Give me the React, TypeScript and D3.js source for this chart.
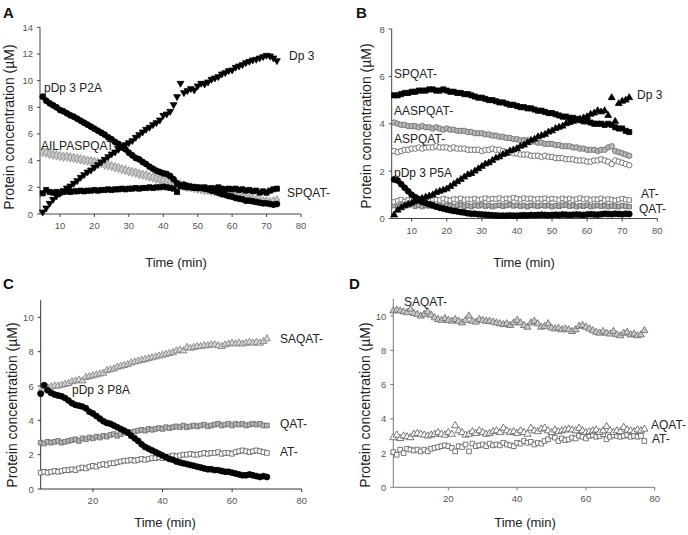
import React from "react";
import * as d3 from "d3";

// ---------- DATA ----------
const tA = d3.range(5, 74); // minutes
const A_P2A = [8.8,8.5,8.3,8.15,8.0,7.8,7.7,7.55,7.4,7.3,7.15,7.0,6.85,6.7,6.55,6.4,6.25,6.1,5.95,5.75,5.6,5.4,5.25,5.0,4.85,4.6,4.4,4.2,4.1,3.9,3.75,3.55,3.4,3.25,3.15,3.05,3.0,2.85,2.6,2.3,2.15,2.2,2.1,2.05,2.0,1.95,1.95,1.9,1.85,1.75,1.7,1.6,1.5,1.45,1.35,1.3,1.2,1.15,1.1,1.0,1.0,0.95,0.9,0.85,0.8,0.8,0.75,0.7,0.75];
const A_Dp3 = [0.15,0.45,0.8,1.1,1.35,1.55,1.75,1.95,2.1,2.3,2.5,2.75,2.95,3.15,3.3,3.5,3.7,3.9,4.1,4.3,4.5,4.65,4.85,5.05,5.2,5.35,5.5,5.75,5.95,6.15,6.35,6.5,6.7,6.85,7.05,7.4,7.5,7.7,8.2,8.8,9.8,9.1,9.25,9.4,9.3,9.6,9.8,9.75,9.9,10.1,10.2,10.3,10.5,10.6,10.75,10.8,11.0,11.1,11.2,11.35,11.45,11.55,11.6,11.7,11.8,11.9,11.85,11.7,11.5];
const A_SPQAT = [1.55,1.8,1.65,1.6,1.65,1.6,1.65,1.7,1.65,1.7,1.7,1.75,1.7,1.75,1.75,1.8,1.75,1.8,1.8,1.85,1.8,1.85,1.85,1.9,1.85,1.9,1.9,1.95,1.9,1.95,1.95,2.0,1.95,2.0,2.0,2.05,2.0,1.95,1.9,1.65,2.1,2.05,2.0,2.0,1.95,2.0,1.95,2.0,1.9,1.95,1.9,2.0,1.9,1.85,1.9,1.85,1.9,1.8,1.85,1.75,1.8,1.7,1.75,1.6,1.7,1.6,1.75,1.85,1.9];
const A_AILPA = [4.65,4.6,4.5,4.45,4.4,4.35,4.3,4.3,4.25,4.2,4.15,4.1,4.05,4.0,3.95,3.9,3.85,3.8,3.7,3.65,3.6,3.5,3.45,3.35,3.3,3.2,3.15,3.1,3.0,2.95,2.9,2.8,2.75,2.65,2.6,2.5,2.45,2.4,2.3,2.25,2.2,2.1,2.05,2.0,1.95,1.9,1.85,1.8,1.8,1.75,1.7,1.65,1.55,1.5,1.45,1.4,1.35,1.3,1.25,1.2,1.15,1.1,1.05,1.0,0.95,0.95,0.9,0.95,1.05];

const tB = d3.range(5, 73);
const B_SPQAT = [5.2,5.2,5.25,5.3,5.3,5.35,5.35,5.4,5.4,5.4,5.45,5.45,5.4,5.4,5.45,5.4,5.35,5.35,5.3,5.3,5.25,5.25,5.2,5.15,5.1,5.1,5.05,5.0,5.0,4.95,4.9,4.9,4.85,4.8,4.8,4.75,4.7,4.7,4.65,4.65,4.6,4.55,4.55,4.5,4.45,4.45,4.4,4.35,4.3,4.3,4.25,4.25,4.2,4.15,4.1,4.1,4.05,4.0,4.0,4.0,3.95,4.0,3.95,3.85,3.8,3.8,3.7,3.65];
const B_AASPQAT = [4.05,4.0,3.95,3.95,3.9,3.9,3.9,3.85,3.9,3.85,3.85,3.8,3.85,3.8,3.75,3.8,3.75,3.75,3.7,3.7,3.7,3.65,3.65,3.6,3.6,3.6,3.55,3.55,3.5,3.5,3.45,3.45,3.4,3.4,3.35,3.35,3.3,3.3,3.3,3.25,3.25,3.2,3.2,3.15,3.15,3.15,3.1,3.1,3.05,3.05,3.05,3.0,3.0,2.95,2.95,2.9,2.9,2.9,2.85,2.9,2.9,3.0,3.05,2.85,2.8,2.75,2.7,2.65];
const B_ASPQAT = [2.85,2.8,2.85,2.9,2.9,2.95,2.95,3.0,2.95,3.0,3.0,3.0,3.05,3.0,3.0,3.0,2.95,3.0,2.95,2.95,2.95,2.9,2.9,2.9,2.9,2.85,2.9,2.9,2.95,2.9,2.9,2.85,2.8,2.8,2.75,2.75,2.7,2.7,2.7,2.65,2.65,2.65,2.6,2.65,2.6,2.6,2.55,2.55,2.55,2.5,2.5,2.5,2.45,2.45,2.45,2.4,2.4,2.45,2.45,2.5,2.45,2.4,2.3,2.45,2.4,2.35,2.3,2.25];
const B_P5A = [1.65,1.6,1.45,1.3,1.15,1.0,0.9,0.8,0.7,0.65,0.6,0.55,0.5,0.45,0.42,0.38,0.35,0.32,0.3,0.27,0.25,0.22,0.2,0.2,0.18,0.17,0.16,0.15,0.14,0.13,0.12,0.12,0.12,0.13,0.12,0.12,0.13,0.14,0.13,0.15,0.14,0.15,0.16,0.15,0.14,0.15,0.16,0.15,0.17,0.16,0.15,0.16,0.17,0.16,0.15,0.17,0.18,0.17,0.16,0.18,0.2,0.19,0.18,0.2,0.19,0.18,0.2,0.19];
const B_Dp3 = [0.15,0.35,0.45,0.55,0.6,0.65,0.72,0.8,0.85,0.9,0.95,1.0,1.1,1.15,1.2,1.25,1.35,1.45,1.55,1.65,1.75,1.85,1.9,2.0,2.1,2.2,2.3,2.35,2.45,2.55,2.6,2.7,2.75,2.85,2.9,2.95,3.05,3.1,3.2,3.3,3.35,3.45,3.5,3.55,3.65,3.7,3.8,3.85,3.9,4.0,4.05,4.1,4.15,4.2,4.25,4.3,4.4,4.45,4.55,4.5,4.55,4.35,5.1,4.1,4.85,4.95,5.0,5.1];
const B_AT = [0.7,0.75,0.8,0.72,0.78,0.8,0.75,0.82,0.78,0.8,0.76,0.82,0.8,0.78,0.84,0.8,0.76,0.82,0.8,0.85,0.78,0.82,0.8,0.84,0.78,0.82,0.86,0.8,0.84,0.82,0.86,0.8,0.85,0.82,0.88,0.84,0.8,0.86,0.82,0.85,0.8,0.84,0.82,0.86,0.8,0.84,0.82,0.78,0.85,0.8,0.84,0.78,0.82,0.86,0.8,0.84,0.78,0.82,0.8,0.85,0.78,0.82,0.8,0.76,0.8,0.84,0.8,0.78];
const B_QAT = [0.55,0.5,0.58,0.52,0.55,0.6,0.52,0.56,0.5,0.55,0.53,0.57,0.5,0.55,0.52,0.56,0.54,0.5,0.55,0.58,0.52,0.55,0.5,0.56,0.53,0.57,0.52,0.55,0.5,0.54,0.56,0.52,0.55,0.58,0.53,0.56,0.52,0.55,0.5,0.56,0.54,0.52,0.56,0.53,0.55,0.5,0.54,0.52,0.55,0.57,0.52,0.55,0.5,0.54,0.52,0.56,0.5,0.53,0.55,0.52,0.54,0.5,0.53,0.52,0.5,0.54,0.52,0.5];

const tC = d3.range(5, 71);
const C_SAQAT = [5.7,5.8,5.9,5.95,6.0,6.0,6.05,6.1,6.15,6.25,6.3,6.35,6.3,6.5,6.55,6.6,6.65,6.7,6.75,6.9,6.95,7.0,7.1,7.15,7.2,7.25,7.35,7.4,7.45,7.5,7.55,7.6,7.65,7.7,7.75,7.8,7.85,7.9,7.95,8.05,8.1,8.05,8.25,8.2,8.25,8.3,8.3,8.35,8.35,8.4,8.4,8.35,8.3,8.4,8.45,8.5,8.45,8.5,8.45,8.5,8.55,8.5,8.55,8.5,8.6,8.75];
const C_P8A = [5.55,6.05,5.75,5.6,5.5,5.45,5.4,5.3,5.15,5.0,4.9,4.85,4.8,4.7,4.5,4.4,4.25,4.1,3.95,3.85,3.8,3.7,3.6,3.5,3.4,3.3,3.1,2.95,2.8,2.6,2.45,2.35,2.25,2.15,2.05,1.95,1.85,1.75,1.7,1.6,1.55,1.5,1.45,1.4,1.35,1.3,1.25,1.2,1.15,1.15,1.1,1.1,1.05,1.0,1.0,0.95,0.9,0.85,0.8,0.8,0.85,0.8,0.75,0.7,0.75,0.7];
const C_QAT = [2.7,2.65,2.75,2.7,2.75,2.8,2.7,2.75,2.8,2.85,2.9,2.8,2.95,2.9,3.0,2.95,3.05,3.0,3.1,3.05,3.15,3.2,3.1,3.2,3.3,3.25,3.3,3.35,3.4,3.45,3.4,3.5,3.45,3.5,3.55,3.5,3.6,3.55,3.6,3.65,3.6,3.7,3.6,3.65,3.7,3.65,3.7,3.75,3.65,3.7,3.75,3.8,3.7,3.75,3.8,3.7,3.8,3.75,3.8,3.7,3.75,3.8,3.75,3.8,3.7,3.7];
const C_AT = [0.95,1.0,0.95,1.0,1.05,1.0,1.05,1.1,1.1,1.15,1.1,1.2,1.25,1.2,1.3,1.35,1.3,1.4,1.45,1.4,1.5,1.5,1.55,1.6,1.65,1.65,1.7,1.65,1.7,1.75,1.7,1.75,1.8,1.8,1.85,1.8,1.85,1.9,1.95,1.9,1.95,2.0,2.0,2.05,2.0,2.0,2.05,2.1,2.05,2.1,2.1,2.15,2.05,2.1,2.1,2.05,2.15,2.2,2.25,2.2,2.15,2.2,2.25,2.2,2.15,2.1];

const tD = d3.range(4, 78);
const D_SAQAT = [10.3,10.35,10.3,10.25,10.2,10.4,10.15,10.1,10.0,10.1,10.25,10.05,9.9,9.8,9.75,9.85,9.75,9.7,9.8,9.7,9.6,9.75,10.0,9.7,9.65,9.8,9.75,9.7,9.7,9.65,9.6,9.55,9.5,9.55,9.45,9.6,9.75,9.6,9.45,9.35,9.6,9.7,9.55,9.35,9.4,9.55,9.3,9.25,9.3,9.2,9.25,9.2,9.1,9.2,9.4,9.45,9.35,9.25,9.15,9.05,9.0,9.1,9.0,8.95,9.1,8.9,8.85,9.0,9.05,8.9,8.95,8.85,8.9,9.15];
const D_AQAT = [2.9,3.05,2.85,3.0,2.95,2.9,3.1,3.15,3.1,3.05,3.0,3.05,3.1,3.2,3.1,3.05,3.2,3.1,3.6,3.3,3.2,3.05,3.1,3.25,3.15,3.3,3.2,3.1,3.15,3.25,3.3,3.2,3.45,3.3,3.2,3.25,3.15,3.3,3.2,3.1,3.45,3.3,3.25,3.4,3.45,3.3,3.2,3.35,3.25,3.3,3.35,3.4,3.35,3.3,3.45,3.3,3.2,3.25,3.3,3.35,3.2,3.3,3.55,3.3,3.2,3.3,3.25,3.5,3.35,3.3,3.25,3.35,3.3,3.4];
const D_AT = [2.05,1.9,2.2,2.0,2.25,2.2,2.15,2.2,2.1,2.2,2.1,2.25,2.3,2.35,2.4,2.45,2.4,2.3,2.1,2.4,2.35,2.5,2.1,2.55,2.4,2.45,2.5,2.4,2.55,2.45,2.5,2.45,2.6,2.5,2.45,2.4,2.6,2.55,2.7,2.6,2.65,2.5,2.6,2.55,2.7,2.8,3.0,2.9,2.7,2.85,2.75,2.8,2.9,2.85,3.0,2.95,2.85,3.0,3.05,2.95,3.0,3.1,2.8,2.95,3.05,3.0,2.95,3.0,3.05,2.95,3.0,2.95,3.0,2.7];

const ticksX10 = [10, 20, 30, 40, 50, 60, 70, 80];
const ticksX20 = [20, 40, 60, 80];
const ticksY14 = [0, 2, 4, 6, 8, 10, 12, 14];
const ticksY8 = [0, 2, 4, 6, 8];
const ticksY10 = [0, 2, 4, 6, 8, 10];

// ---------- STYLES ----------
type Shape = "circle" | "square" | "tri" | "tridown" | "diamond";
interface Series { t: number[]; v: number[]; shape: Shape; fill: string; stroke: string; size: number; sw?: number; }
interface Label { text: string; x: number; y: number; }
interface PanelCfg {
  letter: string; lx: number; ly: number;
  xd: [number, number]; xr: [number, number];
  yd: [number, number]; yr: [number, number];
  xt: number[]; yt: number[];
  series: Series[]; labels: Label[];
  ylabX: number; ylabY: number; tX: number; tY: number; axisColor: string;
}

const symType: Record<Shape, any> = {
  circle: d3.symbolCircle, square: d3.symbolSquare, tri: d3.symbolTriangle,
  tridown: d3.symbolTriangle, diamond: d3.symbolDiamond,
};

const font = "Arial, 'Liberation Sans', Helvetica, sans-serif";

function Panel({ c }: { c: PanelCfg }) {
  const x = d3.scaleLinear().domain(c.xd).range(c.xr);
  const y = d3.scaleLinear().domain(c.yd).range(c.yr);
  return (
    <g fontFamily={font}>
      <text x={c.lx} y={c.ly} fontSize={15} fontWeight="bold" fill="#111">{c.letter}</text>
      <line x1={c.xr[0]} x2={c.xr[1]} y1={c.yr[0]} y2={c.yr[0]} stroke={c.axisColor} strokeWidth={1} />
      <line x1={c.xr[0]} x2={c.xr[0]} y1={c.yr[0]} y2={c.yr[1]} stroke={c.axisColor} strokeWidth={1} />
      {c.xt.map((t) => (
        <g key={"xt" + t}>
          <line x1={x(t)} x2={x(t)} y1={c.yr[0]} y2={c.yr[0] + 3} stroke={c.axisColor} />
          <text x={x(t)} y={c.yr[0] + 15} fontSize={9.5} fill="#555" textAnchor="middle">{t}</text>
        </g>
      ))}
      {c.yt.map((t) => (
        <g key={"yt" + t}>
          <line x1={c.xr[0] - 3} x2={c.xr[0]} y1={y(t)} y2={y(t)} stroke={c.axisColor} />
          <text x={c.xr[0] - 7} y={y(t) + 3.5} fontSize={9.5} fill="#555" textAnchor="end">{t}</text>
        </g>
      ))}
      <text transform={`translate(${c.ylabX},${c.ylabY}) rotate(-90)`} fontSize={14} fill="#222" textAnchor="middle">
        Protein concentration (µM)
      </text>
      <text x={c.tX} y={c.tY} fontSize={13} fill="#222" textAnchor="middle">Time (min)</text>
      {c.series.map((s, si) => {
        const path = d3.symbol().type(symType[s.shape]).size(s.size)() as string;
        return (
          <g key={"s" + si}>
            {s.v.map((v, i) => (
              <path key={i} d={path}
                transform={`translate(${x(s.t[i])},${y(v)})${s.shape === "tridown" ? " rotate(180)" : ""}`}
                fill={s.fill} stroke={s.stroke} strokeWidth={s.sw ?? 0.8} />
            ))}
          </g>
        );
      })}
      {c.labels.map((l, i) => (
        <text key={"l" + i} x={l.x} y={l.y} fontSize={12} fill="#222">{l.text}</text>
      ))}
    </g>
  );
}

const panels: PanelCfg[] = [
  {
    letter: "A", lx: 3, ly: 18, xd: [4.2, 80], xr: [40, 301], yd: [0, 14], yr: [214, 27.3],
    xt: ticksX10, yt: ticksY14, axisColor: "#444",
    ylabX: 14, ylabY: 127, tX: 176, tY: 267,
    series: [
      { t: tA, v: A_AILPA, shape: "diamond", fill: "#c8c8c8", stroke: "#8a8a8a", size: 26 },
      { t: tA, v: A_SPQAT, shape: "square", fill: "#000", stroke: "#000", size: 26 },
      { t: tA, v: A_P2A, shape: "circle", fill: "#000", stroke: "#000", size: 28 },
      { t: tA, v: A_Dp3, shape: "tridown", fill: "#000", stroke: "#000", size: 20 },
    ],
    labels: [
      { text: "Dp 3", x: 289, y: 60 },
      { text: "pDp 3 P2A", x: 44, y: 92 },
      { text: "AILPASPQAT-", x: 41, y: 150 },
      { text: "SPQAT-", x: 287, y: 197 },
    ],
  },
  {
    letter: "B", lx: 356, ly: 18, xd: [4.3, 80], xr: [391.7, 657.3], yd: [0, 8], yr: [218.5, 29],
    xt: ticksX10, yt: ticksY8, axisColor: "#444",
    ylabX: 371, ylabY: 126, tX: 524, tY: 267,
    series: [
      { t: tB, v: B_QAT, shape: "square", fill: "#b0b0b0", stroke: "#666", size: 20 },
      { t: tB, v: B_AT, shape: "square", fill: "#fff", stroke: "#666", size: 20 },
      { t: tB, v: B_ASPQAT, shape: "circle", fill: "#fff", stroke: "#555", size: 24 },
      { t: tB, v: B_AASPQAT, shape: "circle", fill: "#b8b8b8", stroke: "#666", size: 24 },
      { t: tB, v: B_SPQAT, shape: "square", fill: "#000", stroke: "#000", size: 26 },
      { t: tB, v: B_P5A, shape: "circle", fill: "#000", stroke: "#000", size: 28 },
      { t: tB, v: B_Dp3, shape: "tri", fill: "#000", stroke: "#000", size: 20 },
    ],
    labels: [
      { text: "SPQAT-", x: 394, y: 78 },
      { text: "Dp 3", x: 637, y: 99 },
      { text: "AASPQAT-", x: 394, y: 115 },
      { text: "ASPQAT-", x: 394, y: 143 },
      { text: "pDp 3 P5A", x: 394, y: 177 },
      { text: "AT-", x: 641, y: 198 },
      { text: "QAT-", x: 639, y: 213 },
    ],
  },
  {
    letter: "C", lx: 3, ly: 289, xd: [5, 80], xr: [40.7, 301.7], yd: [0, 11], yr: [489, 300.2],
    xt: ticksX20, yt: ticksY10, axisColor: "#333",
    ylabX: 17, ylabY: 405, tX: 165, tY: 527,
    series: [
      { t: tC, v: C_AT, shape: "square", fill: "#fff", stroke: "#555", size: 22 },
      { t: tC, v: C_QAT, shape: "square", fill: "#b4b4b4", stroke: "#666", size: 22 },
      { t: tC, v: C_SAQAT, shape: "tri", fill: "#d8d8d8", stroke: "#777", size: 22 },
      { t: tC, v: C_P8A, shape: "circle", fill: "#000", stroke: "#000", size: 28 },
    ],
    labels: [
      { text: "SAQAT-", x: 280, y: 343 },
      { text: "pDp 3 P8A", x: 72, y: 394 },
      { text: "QAT-", x: 280, y: 428 },
      { text: "AT-", x: 280, y: 456 },
    ],
  },
  {
    letter: "D", lx: 349, ly: 289, xd: [4, 80], xr: [393.3, 654.7], yd: [0, 11], yr: [487.3, 298.9],
    xt: ticksX20, yt: ticksY10, axisColor: "#777",
    ylabX: 370, ylabY: 405, tX: 525, tY: 527,
    series: [
      { t: tD, v: D_AT, shape: "square", fill: "#fff", stroke: "#555", size: 22 },
      { t: tD, v: D_AQAT, shape: "tri", fill: "#fff", stroke: "#555", size: 22 },
      { t: tD, v: D_SAQAT, shape: "tri", fill: "#c8c8c8", stroke: "#666", size: 22 },
    ],
    labels: [
      { text: "SAQAT-", x: 404, y: 306 },
      { text: "AQAT-", x: 651, y: 429 },
      { text: "AT-", x: 652, y: 443 },
    ],
  },
];

export default function App() {
  return (
    <svg width={688} height={535} style={{ position: "absolute", left: 0, top: 0, background: "#fff" }}>
      <rect width={688} height={535} fill="#fff" />
      {panels.map((p) => <Panel key={p.letter} c={p} />)}
    </svg>
  );
}
